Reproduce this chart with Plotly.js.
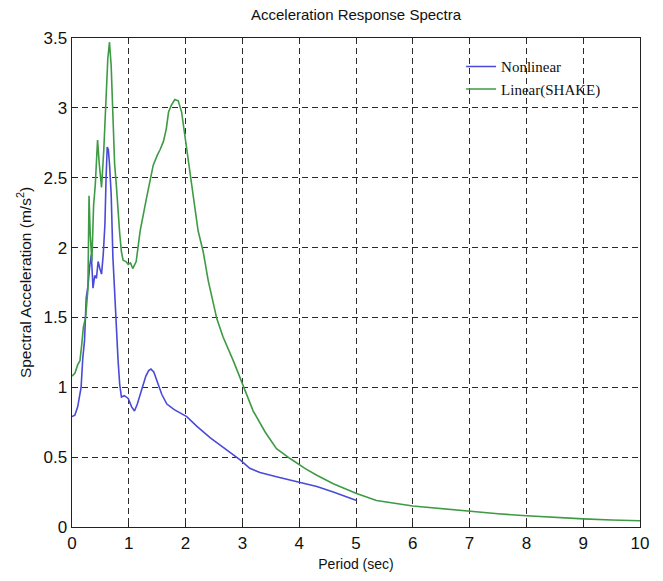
<!DOCTYPE html>
<html>
<head>
<meta charset="utf-8">
<script src="https://cdn.plot.ly/plotly-3.0.1.min.js"></script>
<style>html,body{margin:0;padding:0;background:#fff;}#chart{width:663px;height:581px;}</style>
</head>
<body>
<div id="chart"></div>
<script>
// Nonlinear response spectrum
const nonlinearPeriod = [0, 0.05, 0.1, 0.13, 0.16, 0.19, 0.22, 0.25, 0.28, 0.31, 0.34, 0.37, 0.4, 0.43, 0.46, 0.49, 0.52, 0.55, 0.58, 0.6, 0.62, 0.64, 0.66, 0.69, 0.72, 0.75, 0.78, 0.81, 0.84, 0.87, 0.92, 0.99, 1.05, 1.1, 1.15, 1.2, 1.25, 1.3, 1.35, 1.39, 1.44, 1.49, 1.58, 1.67, 1.8, 2.02, 2.2, 2.43, 2.7, 2.96, 3.13, 3.31, 3.6, 3.8, 4.01, 4.31, 4.6, 4.8, 5.01];
const nonlinearAccel = [0.79, 0.8, 0.86, 0.92, 1.0, 1.21, 1.33, 1.64, 1.72, 1.86, 1.95, 1.71, 1.8, 1.78, 1.9, 1.85, 1.81, 1.95, 2.17, 2.5, 2.72, 2.7, 2.6, 2.38, 1.93, 1.69, 1.4, 1.2, 1.02, 0.93, 0.94, 0.92, 0.86, 0.83, 0.88, 0.95, 1.02, 1.08, 1.12, 1.13, 1.11, 1.05, 0.95, 0.88, 0.84, 0.79, 0.72, 0.64, 0.56, 0.48, 0.42, 0.39, 0.36, 0.34, 0.32, 0.29, 0.25, 0.22, 0.19];

// Linear (SHAKE) response spectrum
const linearPeriod = [0, 0.05, 0.1, 0.14, 0.17, 0.2, 0.24, 0.28, 0.3, 0.32, 0.35, 0.38, 0.41, 0.45, 0.48, 0.52, 0.56, 0.6, 0.63, 0.66, 0.69, 0.72, 0.75, 0.78, 0.81, 0.84, 0.87, 0.9, 0.95, 0.99, 1.03, 1.07, 1.13, 1.2, 1.31, 1.43, 1.5, 1.55, 1.61, 1.66, 1.7, 1.75, 1.81, 1.87, 1.93, 2.02, 2.11, 2.22, 2.31, 2.4, 2.55, 2.66, 2.85, 3.02, 3.19, 3.4, 3.6, 3.84, 4.1, 4.31, 4.6, 5.01, 5.36, 6.0, 6.5, 7.0, 7.5, 8.0, 8.5, 9.0, 9.5, 10];
const linearAccel = [1.08, 1.1, 1.16, 1.19, 1.3, 1.43, 1.5, 1.7, 2.37, 2.1, 1.9, 2.3, 2.45, 2.77, 2.6, 2.43, 2.7, 3.1, 3.35, 3.47, 3.3, 2.95, 2.6, 2.45, 2.26, 2.1, 1.97, 1.91, 1.9, 1.88, 1.89, 1.85, 1.9, 2.12, 2.35, 2.59, 2.66, 2.7, 2.76, 2.85, 2.97, 3.02, 3.06, 3.05, 2.97, 2.71, 2.43, 2.12, 1.97, 1.76, 1.49, 1.36, 1.18, 1.0, 0.83, 0.68, 0.56, 0.49, 0.42, 0.37, 0.31, 0.24, 0.19, 0.15, 0.13, 0.11, 0.095, 0.08, 0.068, 0.058, 0.05, 0.045];

const xTicks = [0, 1, 2, 3, 4, 5, 6, 7, 8, 9, 10];
const yTicks = [0, 0.5, 1, 1.5, 2, 2.5, 3, 3.5];
const yTickLabels = ['0', '0.5', '1', '1.5', '2', '2.5', '3', '3.5'];

const traces = [
  {x: nonlinearPeriod, y: nonlinearAccel, type: 'scatter', mode: 'lines', name: 'Nonlinear',
   line: {color: '#4a4ad8', width: 1.6}},
  {x: linearPeriod, y: linearAccel, type: 'scatter', mode: 'lines', name: 'Linear(SHAKE)',
   line: {color: '#3e9a44', width: 1.6}}
];

const axisCommon = {
  showline: true, mirror: true, linecolor: '#222', linewidth: 1.4,
  showgrid: true, gridcolor: '#2a2a2a', griddash: '6px,4px', gridwidth: 1,
  zeroline: false, ticks: 'inside', ticklen: 4, tickcolor: '#222',
  tickfont: {family: 'Liberation Sans, Arial, sans-serif', size: 17, color: '#111'}
};

const layout = {
  width: 663, height: 581,
  margin: {l: 72, r: 23, t: 38, b: 54},
  paper_bgcolor: '#fff', plot_bgcolor: '#fff',
  title: {text: 'Acceleration Response Spectra', x: 0.537, xanchor: 'center', y: 0.975, yanchor: 'middle',
          font: {family: 'Liberation Sans, Arial, sans-serif', size: 15, color: '#111'}},
  xaxis: Object.assign({}, axisCommon, {
    range: [0, 10], tickvals: xTicks, ticktext: xTicks.map(String),
    title: {text: 'Period (sec)', standoff: 7,
            font: {family: 'Liberation Sans, Arial, sans-serif', size: 14, color: '#111'}}
  }),
  yaxis: Object.assign({}, axisCommon, {
    range: [0, 3.5], tickvals: yTicks, ticktext: yTickLabels,
    title: {text: 'Spectral Acceleration (m/s<sup>2</sup>)', standoff: 8,
            font: {family: 'Liberation Sans, Arial, sans-serif', size: 15.5, color: '#111'}}
  }),
  showlegend: true,
  legend: {x: 0.685, y: 0.975, xanchor: 'left', yanchor: 'top', bgcolor: 'rgba(0,0,0,0)',
           font: {family: 'Liberation Serif, Times New Roman, serif', size: 15, color: '#111'},
           tracegroupgap: 0, itemwidth: 30}
};

Plotly.newPlot('chart', traces, layout, {displayModeBar: false, staticPlot: true});
</script>
</body>
</html>
